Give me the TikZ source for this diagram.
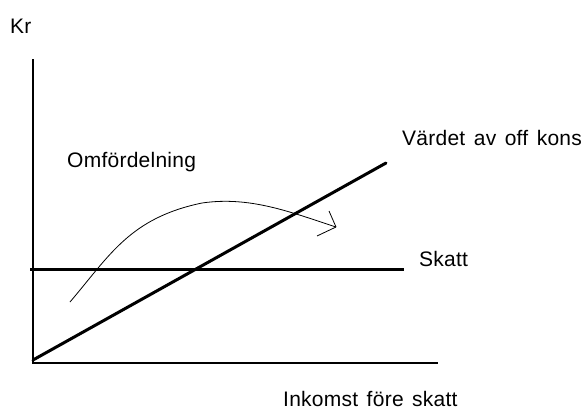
\documentclass[tikz,border=0pt]{standalone}
\usepackage{fontspec}
\setmainfont{Liberation Sans}[WordSpace=1.4,LetterSpace=1.2]
\begin{document}
\begin{tikzpicture}[x=1pt,y=-1pt,
  lbl/.style={inner sep=0pt,anchor=base west,font=\fontsize{21}{25}\selectfont},
  axis/.style={line width=1.6pt},
  heavy/.style={line width=3pt},
  flow/.style={line width=0.8pt}]
\useasboundingbox[fill=white] (0,0) rectangle (587,410);
\coordinate (top) at (33,59);
\coordinate (orig) at (33,363);
\coordinate (xend) at (438,363);
\coordinate (sl) at (30,269);
\coordinate (sr) at (404,269);
\coordinate (dl) at (33,360);
\coordinate (dr) at (386,163);
\coordinate (cs) at (70,302);
\coordinate (ce) at (336,227);
\draw[axis] (top) -- (orig) -- (xend);
\draw[heavy] (sl) -- (sr);
\draw[heavy,line cap=round] (dl) -- (dr);
\draw[flow] (cs) .. controls (110,255) and (130,218) .. (202,203)
  .. controls (250,196) and (290,212) .. (ce);
\draw[flow] (ce) -- ++(-7,-16);
\draw[flow] (ce) -- ++(-19,9);
\node[lbl] (kr) at (10,33) {Kr};
\node[lbl] (omf) at (67,167) {Omfördelning};
\node[lbl] (var) at (402,145) {Värdet av off kons};
\node[lbl] (sk) at (419,266) {Skatt};
\node[lbl] (ink) at (283,406) {Inkomst före skatt};
\end{tikzpicture}
\end{document}
